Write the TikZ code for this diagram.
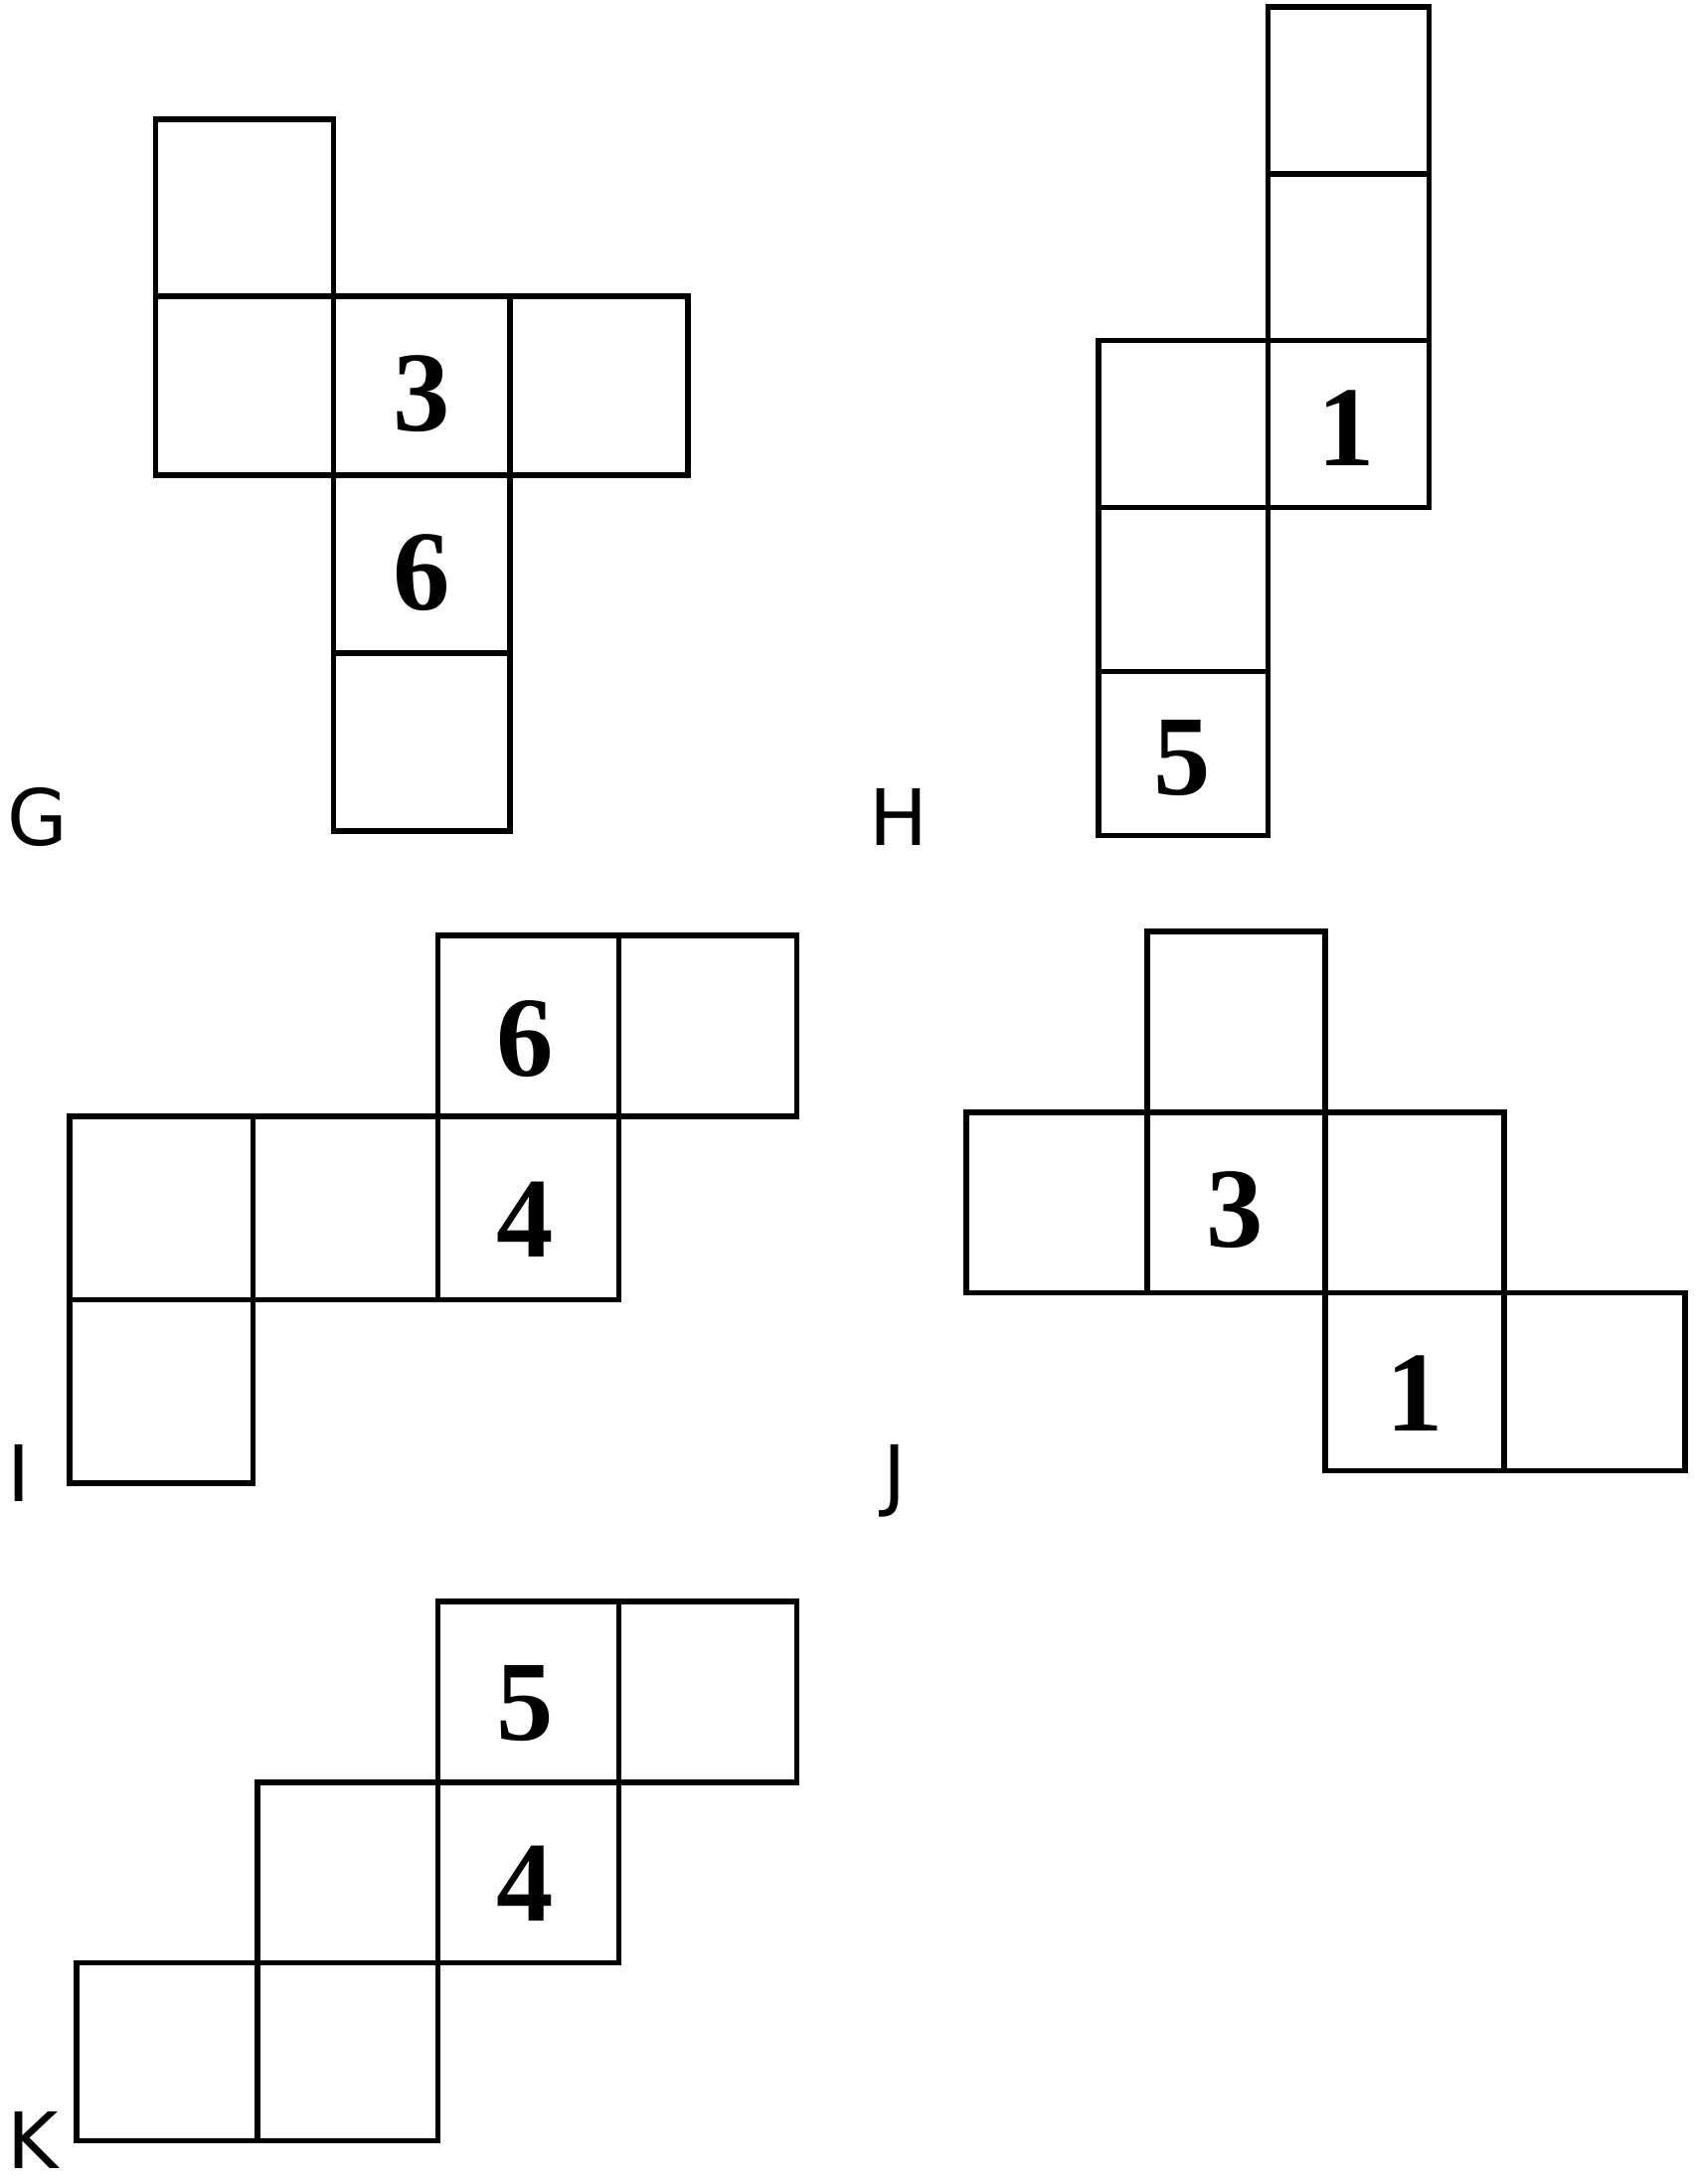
\documentclass[tikz,border=0pt]{standalone}
\usepackage{fontspec}
\setmainfont{Liberation Serif}
\newfontfamily\lblfont{DejaVu Sans}
\begin{document}
\begin{tikzpicture}[x=1pt,y=-1pt,line width=4pt,
  sq/.style={draw=black},
  num/.style={font=\fontsize{82}{82}\selectfont\bfseries},
  lbl/.style={font=\lblfont\fontsize{56}{56}\selectfont,anchor=base west}]
\useasboundingbox (0,0) rectangle (1220,1571);
% G
\draw (112,86) rectangle (240,213);
\draw (112,213) rectangle (240,342) (240,213) rectangle (367,342) (367,213) rectangle (495,342);
\draw (240,342) rectangle (367,470) (240,470) rectangle (367,598);
\node[num] (g3) at (303,283) {3};
\node[num] (g6) at (303,412) {6};
\node[lbl] (G) at (0,608) {G};
% H
\draw (912,5) rectangle (1028,125) (912,125) rectangle (1028,245) (912,245) rectangle (1028,365);
\draw (790,245) rectangle (912,365) (790,365) rectangle (912,483) (790,483) rectangle (912,601);
\node[num] (h1) at (968,308) {1};
\node[num] (h5) at (850,545) {5};
\node[lbl] (H) at (620,608) {H};
% I
\draw (315,673) rectangle (445,803) (445,673) rectangle (573,803);
\draw (50,803) rectangle (182,935) (182,803) rectangle (315,935) (315,803) rectangle (445,935);
\draw (50,935) rectangle (182,1067);
\node[num] (i6) at (378,747) {6};
\node[num] (i4) at (378,877) {4};
\node[lbl] (I) at (0,1080) {I};
% J
\draw (825,670) rectangle (953,800);
\draw (695,800) rectangle (825,930) (825,800) rectangle (953,930) (953,800) rectangle (1082,930);
\draw (953,930) rectangle (1082,1058) (1082,930) rectangle (1212,1058);
\node[num] (j3) at (888,870) {3};
\node[num] (j1) at (1018,1002) {1};
\node[lbl] (J) at (630,1080) {J};
% K
\draw (315,1152) rectangle (445,1282) (445,1152) rectangle (573,1282);
\draw (185,1282) rectangle (315,1412) (315,1282) rectangle (445,1412);
\draw (55,1412) rectangle (185,1540) (185,1412) rectangle (315,1540);
\node[num] (k5) at (378,1225) {5};
\node[num] (k4) at (378,1355) {4};
\node[lbl] (K) at (0,1560) {K};
\end{tikzpicture}
\end{document}
